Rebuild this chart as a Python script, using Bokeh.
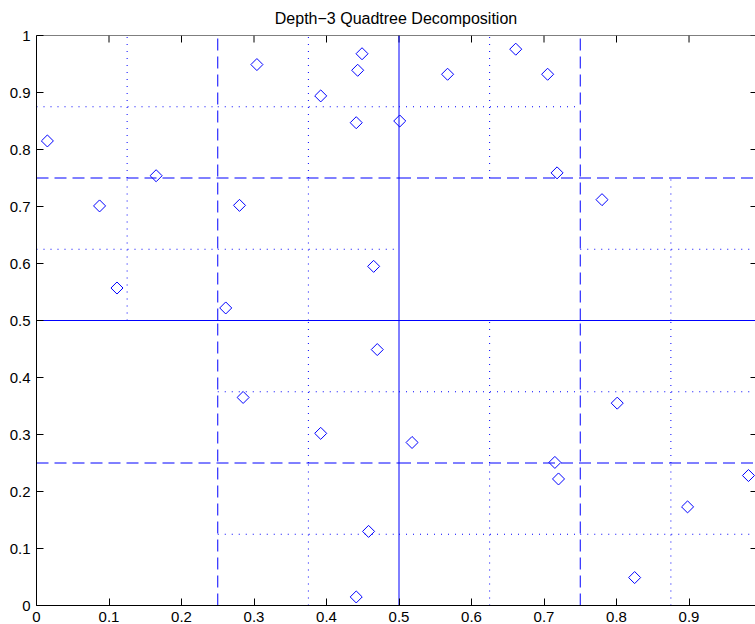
import numpy as np
from bokeh.plotting import figure
from bokeh.models import Range1d, FixedTicker, ColumnDataSource, Span
from bokeh.embed import file_html
from bokeh.resources import INLINE

# Sample points in the unit square
px = [0.015, 0.087, 0.111, 0.165, 0.304, 0.280, 0.261, 0.392, 0.449, 0.443,
      0.441, 0.465, 0.661, 0.567, 0.705, 0.501, 0.718, 0.780, 0.470, 0.285,
      0.392, 0.458, 0.441, 0.518, 0.801, 0.715, 0.720, 0.898, 0.982, 0.825]
py = [0.815, 0.701, 0.557, 0.754, 0.949, 0.702, 0.522, 0.894, 0.968, 0.939,
      0.847, 0.595, 0.976, 0.932, 0.932, 0.850, 0.759, 0.712, 0.449, 0.365,
      0.302, 0.130, 0.015, 0.286, 0.355, 0.251, 0.222, 0.173, 0.228, 0.049]

tick_vals = [0, 0.1, 0.2, 0.3, 0.4, 0.5, 0.6, 0.7, 0.8, 0.9, 1]
tick_labels = ["0", "0.1", "0.2", "0.3", "0.4", "0.5", "0.6", "0.7", "0.8", "0.9", "1"]

X_END = 0.9917          # visible part of the unit square
MAX_DEPTH = 3
level_dash = {1: "solid", 2: "12 6", 3: "1 6"}
BLUE = "#0000ff"
FONT = "Liberation Sans"


def quadtree(x0, y0, size, depth, segs):
    """Split a cell at its centre while it holds points, recording the split lines."""
    if depth > MAX_DEPTH:
        return
    inside = [(x, y) for x, y in zip(px, py)
              if x0 <= x < x0 + size and y0 <= y < y0 + size]
    if not inside:
        return
    h = size / 2
    seg = segs[depth]
    # vertical split
    seg["x0"].append(x0 + h); seg["y0"].append(y0)
    seg["x1"].append(x0 + h); seg["y1"].append(y0 + size)
    # horizontal split
    seg["x0"].append(x0); seg["y0"].append(y0 + h)
    seg["x1"].append(x0 + size); seg["y1"].append(y0 + h)
    for dx in (0, h):
        for dy in (0, h):
            quadtree(x0 + dx, y0 + dy, h, depth + 1, segs)


segs = {d: {"x0": [], "y0": [], "x1": [], "y1": []} for d in range(1, MAX_DEPTH + 1)}
quadtree(0.0, 0.0, 1.0, 1, segs)

p = figure(width=755, height=624, output_backend="svg", toolbar_location=None,
           x_range=Range1d(0, X_END), y_range=Range1d(0, 1),
           title="Depth\u22123 Quadtree Decomposition",
           min_border_left=36, min_border_right=0, min_border_top=35,
           min_border_bottom=0)
p.background_fill_color = "white"
p.border_fill_color = "white"
p.outline_line_color = None
p.grid.visible = False

p.title.align = "center"
p.title.vertical_align = "middle"
p.title.standoff = 15
p.title.text_font = FONT
p.title.text_font_size = "16px"
p.title.text_font_style = "normal"
p.title.text_color = "black"

ticker = FixedTicker(ticks=tick_vals)
overrides = {v: s for v, s in zip(tick_vals, tick_labels)}

for ax in (p.xaxis[0], p.yaxis[0]):
    ax.ticker = ticker
    ax.major_tick_in = 7
    ax.major_tick_out = 0
    ax.minor_tick_line_color = None
    ax.major_tick_line_color = "black"
    ax.axis_line_color = "black"
    ax.axis_line_width = 1
    ax.major_label_overrides = overrides
    ax.major_label_text_font = FONT
    ax.major_label_text_font_size = "15px"
    ax.major_label_text_color = "black"
    ax.major_label_standoff = 6

# top edge of the box with inward ticks
p.add_layout(Span(location=1, dimension="width", line_color="black", line_width=1))
xt = [v for v in tick_vals if v <= X_END]
p.ray(x=xt, y=[1] * len(xt), length=7, length_units="screen",
      angle=-np.pi / 2, line_color="black", line_width=1)
# inward ticks of the right edge
p.ray(x=[X_END] * len(tick_vals), y=tick_vals, length=5, length_units="screen",
      angle=np.pi, line_color="black", line_width=1)

# quadtree split lines, one style per level
for d in range(1, MAX_DEPTH + 1):
    src = ColumnDataSource(segs[d])
    p.segment(x0="x0", y0="y0", x1="x1", y1="y1", source=src,
              line_color=BLUE, line_width=1, line_dash=level_dash[d])

# diamond markers
pts = ColumnDataSource(dict(x=px, y=py))
p.scatter(x="x", y="y", source=pts, marker="square", angle=np.pi / 4, size=8.5,
          line_color=BLUE, line_width=1, fill_color=None)

open("out.html", "w").write(file_html(p, INLINE))
